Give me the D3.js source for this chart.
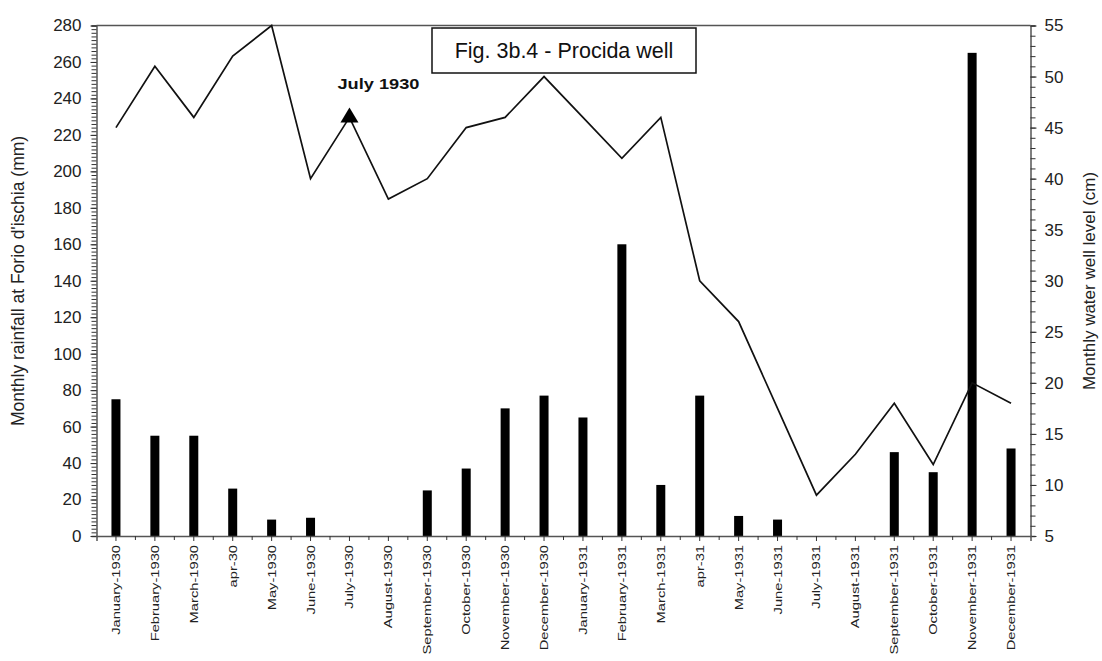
<!DOCTYPE html>
<html><head><meta charset="utf-8">
<script src="https://cdn.jsdelivr.net/npm/d3@7"></script>
<style>body{margin:0;background:#fff;} svg{display:block;font-family:Arial,"Liberation Sans",sans-serif;}</style>
</head><body>
<svg id="c" width="1102" height="661"></svg>
<script>
const categories = ["January-1930","February-1930","March-1930","apr-30","May-1930","June-1930","July-1930","August-1930","September-1930","October-1930","November-1930","December-1930","January-1931","February-1931","March-1931","apr-31","May-1931","June-1931","July-1931","August-1931","September-1931","October-1931","November-1931","December-1931"];
const rainfall = [75,55,55,26,9,10,0,0,25,37,70,77,65,160,28,77,11,9,0,0,46,35,265,48];
const wellLevel = [45,51,46,52,55,40,46,38,40,45,46,50,46,42,46,30,26,17.5,9,13,18,12,20,18];
const leftTicks = [0,20,40,60,80,100,120,140,160,180,200,220,240,260,280];
const rightTicks = [5,10,15,20,25,30,35,40,45,50,55];
const title = "Fig. 3b.4 - Procida well";
const annotation = {label:"July 1930", category:"July-1930"};

const svg = d3.select("#c");
const X0=96.5, X1=1030.5, Y0=25.5, Y1=536;
const x = d3.scaleBand().domain(categories).range([X0,X1]).padding(0);
const yL = d3.scaleLinear().domain([0,280]).range([Y1,Y0]);
const yR = d3.scaleLinear().domain([5,55]).range([Y1,Y0]);
const cx = c => x(c)+x.bandwidth()/2;

// frame top
svg.append("line").attr("x1",X0).attr("x2",X1).attr("y1",Y0).attr("y2",Y0).attr("stroke","#555").attr("stroke-width",1.5);

// bars
svg.append("g").selectAll("rect").data(categories).join("rect")
  .attr("x",d=>cx(d)-4.5).attr("width",9)
  .attr("y",(d,i)=>yL(rainfall[i])).attr("height",(d,i)=>Y1-yL(rainfall[i]))
  .attr("fill","#000");

// line
const line = d3.line().x((d,i)=>cx(categories[i])).y(d=>yR(d));
svg.append("path").datum(wellLevel).attr("d",line).attr("fill","none").attr("stroke","#111").attr("stroke-width",1.7);

// left axis
const gl = svg.append("g").attr("transform",`translate(${X0},0)`);
gl.call(d3.axisLeft(yL).tickValues(d3.range(0,281,2)).tickSize(5).tickFormat(""));
gl.call(g=>g.selectAll(".tick line").attr("stroke","#333"));
gl.select(".domain").attr("stroke","#555").attr("stroke-width",1.5);
const gl2 = svg.append("g").attr("transform",`translate(${X0},0)`);
gl2.call(d3.axisLeft(yL).tickValues(leftTicks).tickSize(6).tickPadding(9));
gl2.select(".domain").remove();
gl2.selectAll("text").attr("font-size",17).attr("fill","#222").attr("font-family","Arial, 'Liberation Sans', sans-serif");
gl2.selectAll(".tick line").attr("stroke","#333");

// right axis
const gr = svg.append("g").attr("transform",`translate(${X1},0)`);
gr.call(d3.axisRight(yR).tickValues(d3.range(5,56,1)).tickSize(5).tickFormat(""));
gr.call(g=>g.selectAll(".tick line").attr("stroke","#333"));
gr.select(".domain").attr("stroke","#555").attr("stroke-width",1.5);
const gr2 = svg.append("g").attr("transform",`translate(${X1},0)`);
gr2.call(d3.axisRight(yR).tickValues(rightTicks).tickSize(6).tickPadding(8));
gr2.select(".domain").remove();
gr2.selectAll("text").attr("font-size",17).attr("fill","#222").attr("font-family","Arial, 'Liberation Sans', sans-serif");
gr2.selectAll(".tick line").attr("stroke","#333");

// bottom axis
const gb = svg.append("g").attr("transform",`translate(0,${Y1})`);
gb.call(d3.axisBottom(x).tickSize(5).tickPadding(6));
gb.select(".domain").attr("stroke","#555").attr("stroke-width",1.5);
gb.selectAll(".tick line").attr("stroke","#333");
gb.selectAll("text").attr("font-size",11.5).attr("fill","#222").attr("font-family","Arial, 'Liberation Sans', sans-serif")
  .attr("transform","rotate(-90) scale(1.28,1)").attr("text-anchor","end").attr("dx",0).attr("dy","0.35em").attr("y",0).attr("x",-7);
// boundary ticks
svg.append("g").selectAll("line").data(categories.slice(1)).join("line")
  .attr("x1",d=>x(d)).attr("x2",d=>x(d)).attr("y1",Y1).attr("y2",Y1+4).attr("stroke","#333");

// axis titles
svg.append("text").attr("transform","translate(24,281) rotate(-90)").attr("text-anchor","middle")
  .attr("font-size",17.5).attr("fill","#222").text("Monthly rainfall at Forio d'ischia (mm)");
svg.append("text").attr("transform","translate(1095,281) rotate(-90)").attr("text-anchor","middle")
  .attr("font-size",17).attr("fill","#222").text("Monthly water well level (cm)");

// title box
svg.append("rect").attr("x",432).attr("y",28).attr("width",264).attr("height",45).attr("fill","#fff").attr("stroke","#111").attr("stroke-width",1.5);
svg.append("text").attr("x",564).attr("y",58).attr("text-anchor","middle").attr("font-size",21.5).attr("fill","#111").text(title);

// annotation
const ai = categories.indexOf(annotation.category);
const ax = cx(annotation.category), ay = yR(wellLevel[ai]);
svg.append("path").attr("d",`M${ax},${ay-10} L${ax+9},${ay+5} L${ax-9},${ay+5} Z`).attr("fill","#000");
svg.append("text").attr("x",ax-12).attr("y",ay-28).attr("font-size",14.5).attr("font-weight","bold").attr("fill","#111")
  .attr("textLength",82).attr("lengthAdjust","spacingAndGlyphs").text(annotation.label);
</script>
</body></html>
